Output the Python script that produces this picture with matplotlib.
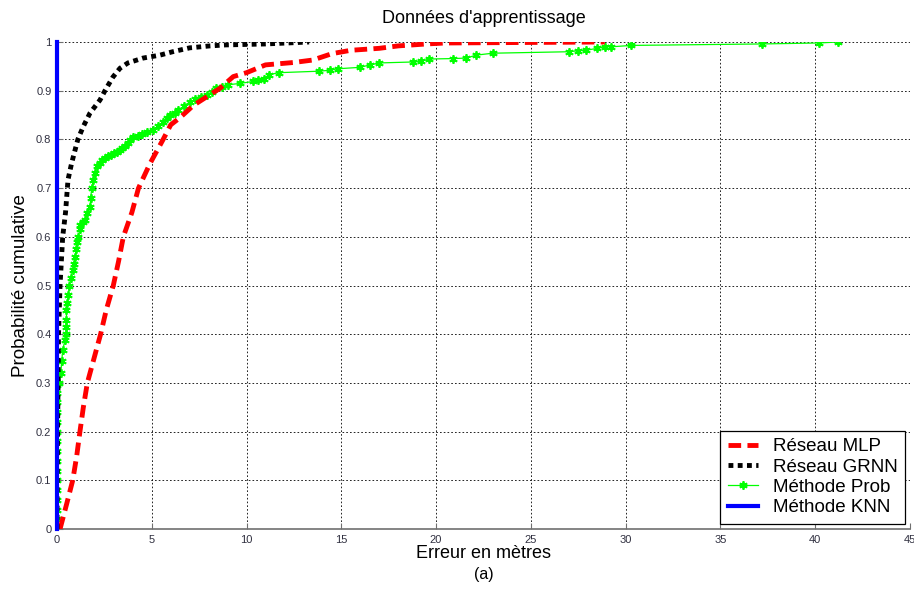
import numpy as np
import matplotlib
matplotlib.use('Agg')
from matplotlib import pyplot as plt
from matplotlib.ticker import FormatStrFormatter

plt.rcParams['font.family'] = ['Liberation Sans', 'DejaVu Sans']

## cumulative error curves (error in metres, cumulative probability)
mlp_err = [0.16, 0.5, 0.83, 1.04, 1.21, 1.39, 1.6, 1.95, 2.3, 2.6, 2.97, 3.25, 3.5,
           3.95, 4.3, 4.9, 5.6, 6.0, 6.5, 7.2, 8.0, 8.6, 9.3, 10.0, 11.0, 12.5,
           13.5, 14.5, 15.5, 17.0, 18.0, 19.5, 20.5, 28.9]
mlp_prob = [0.0, 0.05, 0.1, 0.15, 0.2, 0.25, 0.3, 0.35, 0.4, 0.45, 0.5, 0.55, 0.6,
            0.65, 0.7, 0.75, 0.8, 0.83, 0.845, 0.87, 0.89, 0.905, 0.929, 0.937, 0.953,
            0.958, 0.963, 0.976, 0.983, 0.987, 0.992, 0.996, 0.998, 1.0]

grnn_err = [0.0, 0.03, 0.08, 0.16, 0.3, 0.45, 0.58, 0.77, 1.1, 1.38, 1.74, 2.27, 2.53,
            2.95, 3.32, 3.74, 4.54, 5.43, 6.1, 7.0, 8.07, 8.9, 11.0, 13.3]
grnn_prob = [0.0, 0.2, 0.4, 0.5, 0.6, 0.65, 0.717, 0.751, 0.8, 0.826, 0.854, 0.881, 0.9,
             0.928, 0.946, 0.957, 0.967, 0.973, 0.98, 0.988, 0.992, 0.994, 0.996, 1.0]

prob_err = [0, 0, 0, 0, 0, 0, 0, 0, 0, 0, 0, 0, 0, 0, 0, 0.02, 0.12, 0.2, 0.25, 0.3,
            0.42, 0.5, 0.5, 0.5, 0.5, 0.55, 0.6, 0.65, 0.72, 0.83, 0.9, 0.95, 1.02,
            1.08, 1.12, 1.2, 1.21, 1.35, 1.48, 1.6, 1.74, 1.78, 1.83, 1.92, 2.0, 2.1,
            2.25, 2.4, 2.55, 2.7, 2.85, 3.0, 3.15, 3.32, 3.45, 3.6, 3.74, 3.87, 4.0,
            4.25, 4.5, 4.75, 5.07, 5.35, 5.6, 5.8, 5.96, 6.2, 6.4, 6.7, 7.0, 7.3, 7.6,
            7.9, 8.2, 8.4, 8.7, 9.0, 9.65, 10.35, 10.6, 10.9, 11.2, 11.7, 13.8, 14.4,
            14.8, 16.0, 16.5, 17.0, 18.8, 19.2, 19.6, 20.9, 21.6, 22.1, 23.0, 27.0,
            27.5, 27.9, 28.5, 28.9, 29.2, 30.3, 37.2, 40.2, 41.2]
prob_prob = [0.0, 0.02, 0.04, 0.06, 0.08, 0.1, 0.12, 0.14, 0.16, 0.18, 0.2, 0.22, 0.24,
             0.26, 0.28, 0.295, 0.3, 0.32, 0.345, 0.367, 0.388, 0.4, 0.415, 0.43, 0.45,
             0.465, 0.48, 0.5, 0.515, 0.532, 0.545, 0.559, 0.575, 0.59, 0.6, 0.615,
             0.624, 0.63, 0.635, 0.648, 0.662, 0.68, 0.7, 0.717, 0.73, 0.745, 0.752,
             0.758, 0.762, 0.765, 0.768, 0.772, 0.775, 0.778, 0.782, 0.787, 0.792,
             0.798, 0.805, 0.808, 0.812, 0.815, 0.819, 0.828, 0.836, 0.843, 0.85,
             0.855, 0.86, 0.868, 0.877, 0.882, 0.887, 0.892, 0.898, 0.905, 0.908,
             0.912, 0.915, 0.919, 0.922, 0.925, 0.933, 0.937, 0.94, 0.942, 0.945,
             0.948, 0.953, 0.957, 0.959, 0.96, 0.965, 0.966, 0.967, 0.973, 0.977,
             0.98, 0.982, 0.983, 0.987, 0.99, 0.99, 0.993, 0.996, 0.998, 1.0]

knn_err = [0.0, 0.0]
knn_prob = [0.0, 1.0]

labels = ['Réseau MLP', 'Réseau GRNN', 'Méthode Prob', 'Méthode KNN']

fig = plt.figure(figsize=(9.14, 5.89), dpi=100)
ax = fig.add_axes([57 / 914, 1 - 529 / 589, 853 / 914, 487 / 589])

ax.plot(mlp_err, mlp_prob, color='#ff0000', lw=3.5, linestyle=(0, (2.6, 1.3)),
        dash_capstyle='butt', label=labels[0], zorder=3)
ax.plot(grnn_err, grnn_prob, color='black', lw=3.5, linestyle=(0, (1, 0.9)),
        dash_capstyle='butt', label=labels[1], zorder=3)
ax.plot(prob_err, prob_prob, color='#00ff00', lw=0.9, marker=(6, 2, 0),
        markersize=6, markeredgewidth=1.3, label=labels[2], zorder=2)
ax.plot(knn_err, knn_prob, color='#0000ff', lw=3, label=labels[3], zorder=4,
        clip_on=False)

ax.set_xlim(0, 45)
ax.set_ylim(0, 1)
ax.set_xticks(np.arange(0, 46, 5))
ax.set_yticks(np.arange(0, 1.01, 0.1))
ax.yaxis.set_major_formatter(FormatStrFormatter('%g'))
ax.tick_params(direction='in', length=4, width=0.8, color='#707070',
               labelsize=8, labelcolor='#303040', pad=4)

ax.grid(True, color='black', linestyle=(0, (2, 2.5)), linewidth=0.6)
for s in ['top', 'right']:
    ax.spines[s].set_visible(False)
for s in ['left', 'bottom']:
    ax.spines[s].set_color('#707070')
    ax.spines[s].set_linewidth(1.2)

ax.set_title("Données d'apprentissage", fontsize=13, pad=14)
ax.set_xlabel('Erreur en mètres', fontsize=13, labelpad=0)
ax.set_ylabel('Probabilité cumulative', fontsize=13.5, labelpad=5)
fig.text(484 / 914, 1 - 574 / 589, '(a)', fontsize=11.5, ha='center', va='center')

leg = ax.legend(loc='lower right', fontsize=13.5, frameon=True, fancybox=False,
                edgecolor='black', framealpha=1, handlelength=1.65,
                borderpad=0.4, labelspacing=0.17, handletextpad=0.75,
                borderaxespad=0.28)
leg.get_frame().set_linewidth(0.9)

plt.savefig('out.png', dpi=100)
